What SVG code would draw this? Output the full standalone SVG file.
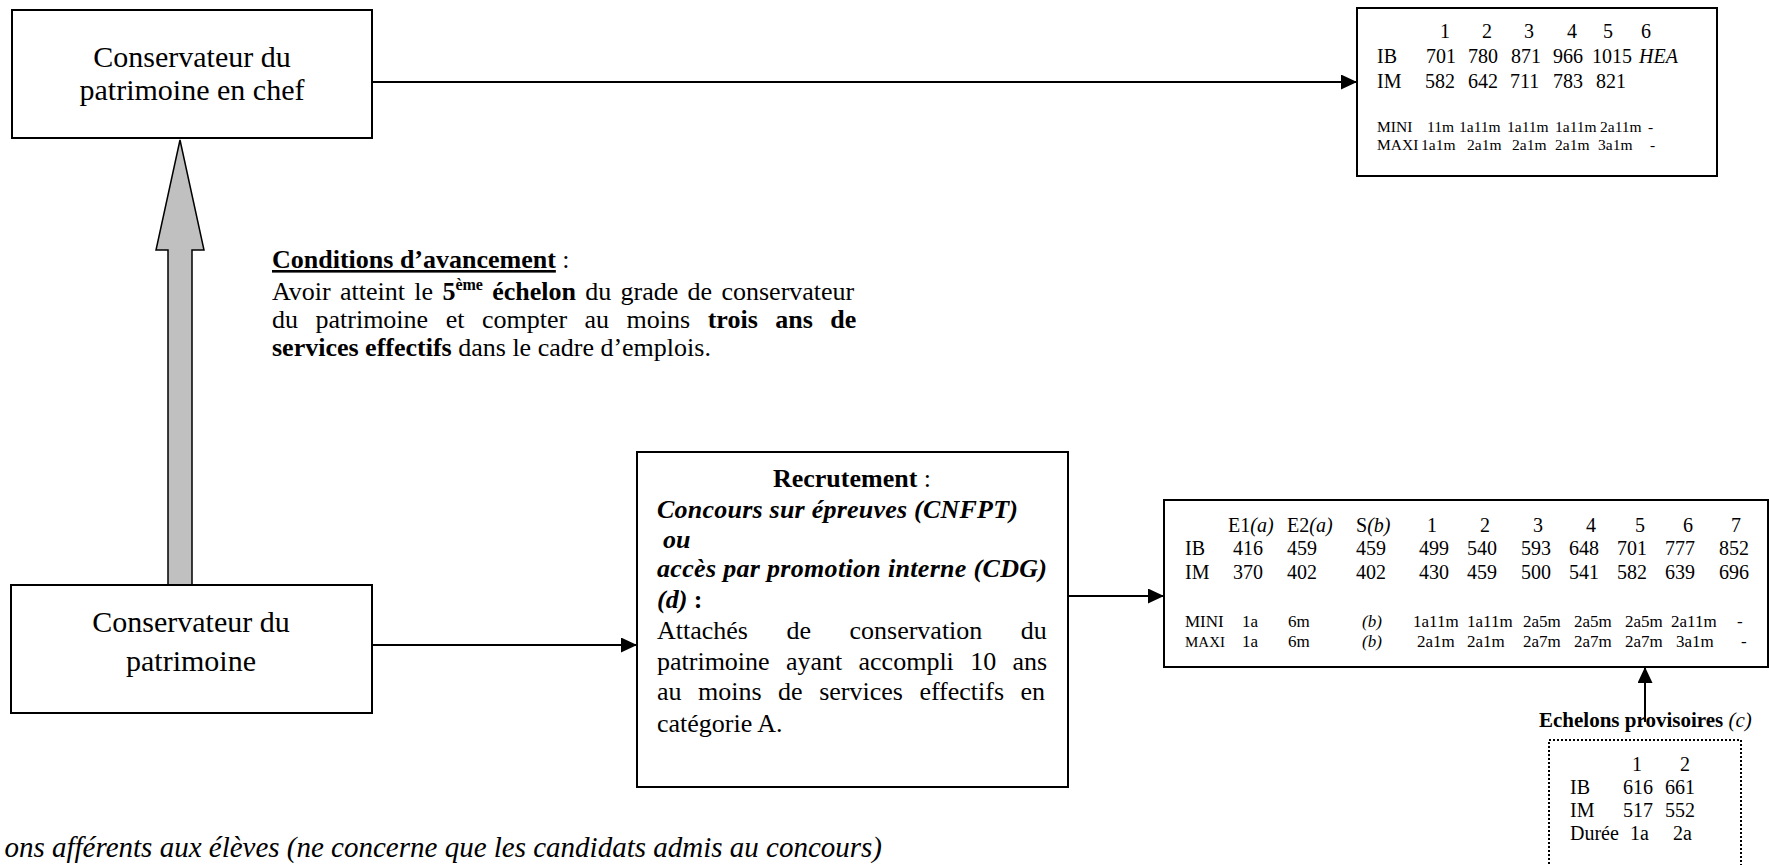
<svg xmlns="http://www.w3.org/2000/svg" width="1769" height="865" viewBox="0 0 1769 865">
<style>
.box{fill:#fff;stroke:#000;stroke-width:2}
.t{font-family:"Liberation Serif","Times New Roman",serif;fill:#000}
.big{font-size:30px}
.m{font-size:26px}
.tb{font-size:20px}
.ts{font-size:15.5px}
.ts2{font-size:17px}
.b{font-weight:bold}
.i{font-style:italic}
.ln{fill:none;stroke:#000;stroke-width:2}
</style>
<defs>
<marker id="ah" markerWidth="16" markerHeight="15" refX="16" refY="7.5" orient="auto" markerUnits="userSpaceOnUse">
<path d="M0,0 L16,7.5 L0,15 z" fill="#000"/>
</marker>
</defs>
<rect width="1769" height="865" fill="#fff"/>

<g id="connectors">
<line class="ln" x1="372" y1="82" x2="1357" y2="82" marker-end="url(#ah)"/>
<line class="ln" x1="372" y1="645" x2="637" y2="645" marker-end="url(#ah)"/>
<line class="ln" x1="1068" y1="596" x2="1164" y2="596" marker-end="url(#ah)"/>
<line class="ln" x1="1645" y1="722" x2="1645" y2="667" marker-end="url(#ah)"/>
<polygon id="promotion-arrow" points="180,140 204,250 192,250 192,585 168,585 168,250 156,250" fill="#c0c0c0" stroke="#000" stroke-width="1.5" stroke-linejoin="miter"/>
</g>

<g id="n-chef">
<rect class="box" x="12" y="10" width="360" height="128"/>
<text class="t big" x="192" y="67" text-anchor="middle">Conservateur du</text>
<text class="t big" x="192" y="100" text-anchor="middle">patrimoine en chef</text>
</g>

<g id="n-conservateur">
<rect class="box" x="11" y="585" width="361" height="128"/>
<text class="t big" x="191" y="632" text-anchor="middle">Conservateur du</text>
<text class="t big" x="191" y="671" text-anchor="middle">patrimoine</text>
</g>

<g id="n-conditions">
<text class="t m" x="272" y="268"><tspan class="b" text-decoration="underline">Conditions d’avancement</tspan> :</text>
<text class="t m" x="272" y="300" word-spacing="2.8">Avoir atteint le <tspan class="b">5<tspan font-size="16" dy="-10">ème</tspan><tspan dy="10"> échelon</tspan></tspan> du grade de conservateur</text>
<text class="t m" x="272" y="328" word-spacing="11">du patrimoine et compter au moins <tspan class="b">trois ans de</tspan></text>
<text class="t m" x="272" y="356"><tspan class="b">services effectifs</tspan> dans le cadre d’emplois.</text>
</g>

<g id="n-recrutement">
<rect class="box" x="637" y="452" width="431" height="335"/>
<text class="t m" x="852" y="487" text-anchor="middle"><tspan class="b">Recrutement</tspan> :</text>
<text class="t m b i" x="657" y="518" textLength="361" lengthAdjust="spacing">Concours sur épreuves (CNFPT)</text>
<text class="t m b i" x="663" y="548">ou</text>
<text class="t m b i" x="657" y="577" textLength="390" lengthAdjust="spacing">accès par promotion interne (CDG)</text>
<text class="t m b" x="657" y="608"><tspan class="i">(d)</tspan> :</text>
<text class="t m" x="657" y="639" word-spacing="32">Attachés de conservation du</text>
<text class="t m" x="657" y="670" word-spacing="9.8">patrimoine ayant accompli 10 ans</text>
<text class="t m" x="657" y="700" word-spacing="10">au moins de services effectifs en</text>
<text class="t m" x="657" y="732">catégorie A.</text>
</g>

<g id="n-grille-chef">
<rect class="box" x="1357" y="8" width="360" height="168"/>
<text class="t tb" y="38"><tspan x="1440">1</tspan><tspan x="1482">2</tspan><tspan x="1524">3</tspan><tspan x="1567">4</tspan><tspan x="1603">5</tspan><tspan x="1641">6</tspan></text>
<text class="t tb" y="63"><tspan x="1377">IB</tspan><tspan x="1426">701</tspan><tspan x="1468">780</tspan><tspan x="1511">871</tspan><tspan x="1553">966</tspan><tspan x="1592">1015</tspan><tspan x="1639" class="i">HEA</tspan></text>
<text class="t tb" y="88"><tspan x="1377">IM</tspan><tspan x="1425">582</tspan><tspan x="1468">642</tspan><tspan x="1510">711</tspan><tspan x="1553">783</tspan><tspan x="1596">821</tspan></text>
<text class="t ts" y="132"><tspan x="1377">MINI</tspan><tspan x="1427">11m</tspan><tspan x="1459">1a11m</tspan><tspan x="1507">1a11m</tspan><tspan x="1555">1a11m</tspan><tspan x="1600">2a11m</tspan><tspan x="1648">-</tspan></text>
<text class="t ts" y="150"><tspan x="1377">MAXI</tspan><tspan x="1421">1a1m</tspan><tspan x="1467">2a1m</tspan><tspan x="1512">2a1m</tspan><tspan x="1555">2a1m</tspan><tspan x="1598">3a1m</tspan><tspan x="1650">-</tspan></text>
</g>

<g id="n-grille-conservateur">
<rect class="box" x="1164" y="500" width="604" height="167"/>
<text class="t tb" y="532"><tspan x="1228">E1<tspan class="i">(a)</tspan></tspan><tspan x="1287">E2<tspan class="i">(a)</tspan></tspan><tspan x="1356">S<tspan class="i">(b)</tspan></tspan><tspan x="1427">1</tspan><tspan x="1480">2</tspan><tspan x="1533">3</tspan><tspan x="1586">4</tspan><tspan x="1635">5</tspan><tspan x="1683">6</tspan><tspan x="1731">7</tspan></text>
<text class="t tb" y="555"><tspan x="1185">IB</tspan><tspan x="1233">416</tspan><tspan x="1287">459</tspan><tspan x="1356">459</tspan><tspan x="1419">499</tspan><tspan x="1467">540</tspan><tspan x="1521">593</tspan><tspan x="1569">648</tspan><tspan x="1617">701</tspan><tspan x="1665">777</tspan><tspan x="1719">852</tspan></text>
<text class="t tb" y="579"><tspan x="1185">IM</tspan><tspan x="1233">370</tspan><tspan x="1287">402</tspan><tspan x="1356">402</tspan><tspan x="1419">430</tspan><tspan x="1467">459</tspan><tspan x="1521">500</tspan><tspan x="1569">541</tspan><tspan x="1617">582</tspan><tspan x="1665">639</tspan><tspan x="1719">696</tspan></text>
<text class="t ts2" y="627"><tspan x="1185">MINI</tspan><tspan x="1242">1a</tspan><tspan x="1288">6m</tspan><tspan x="1362" class="i">(b)</tspan><tspan x="1413">1a11m</tspan><tspan x="1467">1a11m</tspan><tspan x="1523">2a5m</tspan><tspan x="1574">2a5m</tspan><tspan x="1625">2a5m</tspan><tspan x="1671">2a11m</tspan><tspan x="1737">-</tspan></text>
<text class="t ts2" y="647"><tspan x="1185" font-size="15">MAXI</tspan><tspan x="1242">1a</tspan><tspan x="1288">6m</tspan><tspan x="1362" class="i">(b)</tspan><tspan x="1417">2a1m</tspan><tspan x="1467">2a1m</tspan><tspan x="1523">2a7m</tspan><tspan x="1574">2a7m</tspan><tspan x="1625">2a7m</tspan><tspan x="1676">3a1m</tspan><tspan x="1741">-</tspan></text>
</g>

<g id="n-echelons-provisoires">
<text class="t" font-size="21" x="1539" y="727"><tspan class="b">Echelons provisoires</tspan> <tspan class="i">(c)</tspan></text>
<rect x="1549" y="740" width="192" height="160" fill="none" stroke="#000" stroke-width="2" stroke-dasharray="2 2"/>
<text class="t tb" y="771"><tspan x="1632">1</tspan><tspan x="1680">2</tspan></text>
<text class="t tb" y="794"><tspan x="1570">IB</tspan><tspan x="1623">616</tspan><tspan x="1665">661</tspan></text>
<text class="t tb" y="817"><tspan x="1570">IM</tspan><tspan x="1623">517</tspan><tspan x="1665">552</tspan></text>
<text class="t tb" y="840"><tspan x="1570">Durée</tspan><tspan x="1630">1a</tspan><tspan x="1673">2a</tspan></text>
</g>

<g id="footnote">
<text class="t i" font-size="29" x="882" y="857" text-anchor="end">ons afférents aux élèves (ne concerne que les candidats admis au concours)</text>
</g>
</svg>
